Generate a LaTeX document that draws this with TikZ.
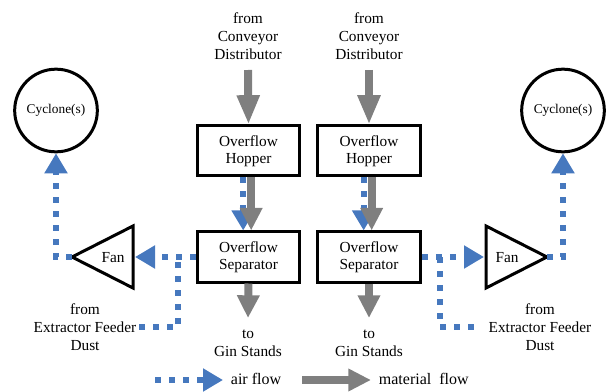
\documentclass[tikz,border=0pt]{standalone}
\usepackage{fontspec}
\setmainfont{Liberation Serif}
\usetikzlibrary{arrows.meta,calc}

\definecolor{airblue}{RGB}{70,120,190}
\definecolor{matgray}{RGB}{127,127,127}

\tikzset{
  unitbox/.style={draw, line width=2.25pt, minimum width=77pt, minimum height=37.5pt,
    align=center, inner sep=2pt, font=\fontsize{11.5}{13}\selectfont},
  cyclone/.style={draw, circle, line width=2.25pt, minimum size=62pt, inner sep=0pt,
    font=\fontsize{10}{12}\selectfont},
  label/.style={align=center, inner sep=2pt, font=\fontsize{11.5}{13.5}\selectfont},
  fanbody/.style={draw, line width=2.25pt, line join=miter},
  matflow/.style={draw=matgray, line width=6pt, -{Triangle[width=16pt,length=17pt]}},
  airflow/.style={draw=airblue, line width=4.5pt, dash pattern=on 4.5pt off 6pt,
    -{Triangle[width=16.5pt,length=15pt]}},
  airline/.style={draw=airblue, line width=4.5pt, dash pattern=on 4.5pt off 6pt}
}

\begin{document}
\begin{tikzpicture}[x=0.75pt,y=-0.75pt]
\useasboundingbox (0,0) rectangle (607,392);

% feed labels
\node[label] (feedL) at (248,36) {from\\Conveyor\\Distributor};
\node[label] (feedR) at (369,36) {from\\Conveyor\\Distributor};

% hoppers and separators
\node[unitbox] (hopL) at (248.5,151) {Overflow\\Hopper};
\node[unitbox] (hopR) at (369,151) {Overflow\\Hopper};
\node[unitbox] (sepL) at (248.5,257) {Overflow\\Separator};
\node[unitbox] (sepR) at (369,257) {Overflow\\Separator};

% outlet labels
\node[label] (ginL) at (248,343.5) {to\\Gin Stands};
\node[label] (ginR) at (369,343.5) {to\\Gin Stands};

% cyclones
\node[cyclone] (cycL) at (56,110.5) {Cyclone(s)};
\node[cyclone] (cycR) at (563,110.5) {Cyclone(s)};

% fans
\draw[fanbody] (72,257) -- (133,226) -- (133,288) -- cycle;
\draw[fanbody] (547,257) -- (486,226) -- (486,288) -- cycle;
\node[label] (fanL) at (113,258) {Fan};
\node[label] (fanR) at (507,258) {Fan};
\coordinate (fanLin) at (135,257);
\coordinate (fanLout) at (72,257);
\coordinate (fanRin) at (484,257);
\coordinate (fanRout) at (547,257);

% dust labels
\node[label] (dustL) at (85,327) {from\\Extractor Feeder\\Dust};
\node[label] (dustR) at (540,327) {from\\Extractor Feeder\\Dust};
\coordinate (jL) at (178,257);
\coordinate (jR) at (440,257);

% material feed arrows
\coordinate (inL) at (248,70);
\coordinate (inR) at (369,70);
\draw[matflow, -{Triangle[width=16pt,length=22pt]}] (inL) -- (hopL.north);
\draw[matflow, -{Triangle[width=16pt,length=22pt]}] (inR) -- (hopR.north);

% air flow from hoppers down to separators
\draw[airflow] ([xshift=-4pt]hopL.south) -- ([xshift=-4pt]sepL.north);
\draw[airflow] ([xshift=-4pt]hopR.south) -- ([xshift=-4pt]sepR.north);

% material flow from hoppers to separators
\draw[matflow] ([xshift=2pt]hopL.south) -- ([xshift=2pt]sepL.north);
\draw[matflow] ([xshift=2pt]hopR.south) -- ([xshift=2pt]sepR.north);

% material out to gin stands
\coordinate (outL) at (248,318);
\coordinate (outR) at (369,318);
\draw[matflow] (sepL.south) -- (outL);
\draw[matflow] (sepR.south) -- (outR);

% air flow: separators to fans to cyclones
\draw[airflow] (sepL.west) -- (fanLin);
\draw[airflow] (sepR.east) -- (fanRin);
\draw[airflow] (fanLout) -| (cycL.south);
\draw[airflow] (fanRout) -| (cycR.south);

% extractor feeder dust branches
\draw[airline] (dustL.east) -| (jL);
\draw[airline, shorten >=4pt] (jR) |- (dustR.west);

% legend
\coordinate (lgA1) at (155,380);
\coordinate (lgA2) at (223,380);
\coordinate (lgM1) at (302,380);
\coordinate (lgM2) at (371,380);
\draw[airflow] (lgA1) -- (lgA2);
\node[label, font=\fontsize{12}{14}\selectfont, anchor=west] (lgAir) at (228,379) {air flow};
\draw[matflow] (lgM1) -- (lgM2);
\node[label, font=\fontsize{12}{14}\selectfont, anchor=west] (lgMat) at (376,379) {material\ \ flow};
\end{tikzpicture}
\end{document}
